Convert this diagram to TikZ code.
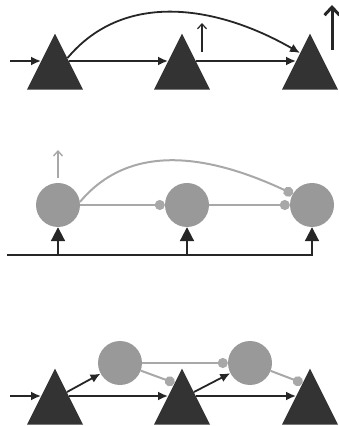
\documentclass[tikz,border=0pt]{standalone}
\usepackage{tikz}
\usetikzlibrary{arrows.meta, shapes.geometric, calc}
\definecolor{trifill}{gray}{0.2}
\definecolor{cellfill}{gray}{0.6}
\definecolor{cellline}{gray}{0.66}
\tikzset{>={Latex[length=10pt,width=9pt]},
  tri/.style={isosceles triangle, isosceles triangle stretches, shape border rotate=90,
    fill=trifill, inner sep=0pt, minimum width=56pt, minimum height=56pt, anchor=apex},
  cell/.style={circle, fill=cellfill, inner sep=0pt, minimum size=44pt},
  exc/.style={->, line width=1.8pt, draw=black!85},
  inh/.style={-{Circle[length=10pt]}, line width=2pt, color=cellline},
  drive/.style={-{Triangle[length=14pt,width=14pt]}, line width=2pt, color=black!85},
  upbarb/.style={-{Straight Barb[length=5pt,width=9pt]}},
  rmid/.style={shift={(14,-28)}}, lmid/.style={shift={(-14,-28)}}
}
\begin{document}
\begin{tikzpicture}[x=1pt, y=1pt]
\useasboundingbox (0,0) rectangle (339,426);
% top row
\node[tri] (t1) at (55,393) {};
\node[tri] (t2) at (182,393) {};
\node[tri] (t3) at (310,393) {};
\coordinate (tin) at (10,365);
\draw[exc] (tin) -- ([lmid]t1.apex);
\draw[exc] ([rmid]t1.apex) -- ([lmid]t2.apex);
\draw[exc] ([rmid]t2.apex) -- ([lmid]t3.apex);
\draw[exc] ([shift={(12.5,-25)}]t1.apex) to[out=50, in=150] ([shift={(-10,-20)}]t3.apex);
\coordinate (ua) at (202,374); \coordinate (ub) at (202,403);
\draw[upbarb, line width=1.2pt, black!85] (ua) -- (ub);
\coordinate (va) at (332,376); \coordinate (vb) at (332,421);
\draw[-{Straight Barb[length=8pt,width=15pt]}, line width=3pt, black!85] (va) -- (vb);

% middle row
\node[cell] (c1) at (58,221) {};
\node[cell] (c2) at (187,221) {};
\node[cell] (c3) at (312,221) {};
\draw[inh] (c1) -- (c2);
\draw[inh] (c2) -- (c3);
\draw[inh] (c1.8) to[out=50, in=155] (c3.150);
\coordinate (bus) at (7,171);
\draw[drive] (bus) -| (c3);
\draw[drive] (c1 |- bus) -- (c1);
\draw[drive] (c2 |- bus) -- (c2);
\coordinate (wa) at (58,248); \coordinate (wb) at (58,276);
\draw[upbarb, line width=1.4pt, cellline] (wa) -- (wb);

% bottom row
\node[tri] (b1) at (55,58) {};
\node[tri] (b2) at (182,58) {};
\node[tri] (b3) at (310,58) {};
\node[cell] (d1) at (120,63) {};
\node[cell] (d2) at (250,63) {};
\coordinate (bin) at (10,30);
\draw[exc] (bin) -- ([lmid]b1.apex);
\draw[exc] ([rmid]b1.apex) -- ([lmid]b2.apex);
\draw[exc] ([rmid]b2.apex) -- ([lmid]b3.apex);
\draw[exc] ([shift={(12,-24)}]b1.apex) -- (d1);
\draw[exc] ([shift={(12,-24)}]b2.apex) -- (d2);
\draw[inh] (d1) -- (d2);
\draw[inh] (d1) -- ([shift={(-7.5,-15)}]b2.apex);
\draw[inh] (d2) -- ([shift={(-7.5,-15)}]b3.apex);
\end{tikzpicture}
\end{document}
